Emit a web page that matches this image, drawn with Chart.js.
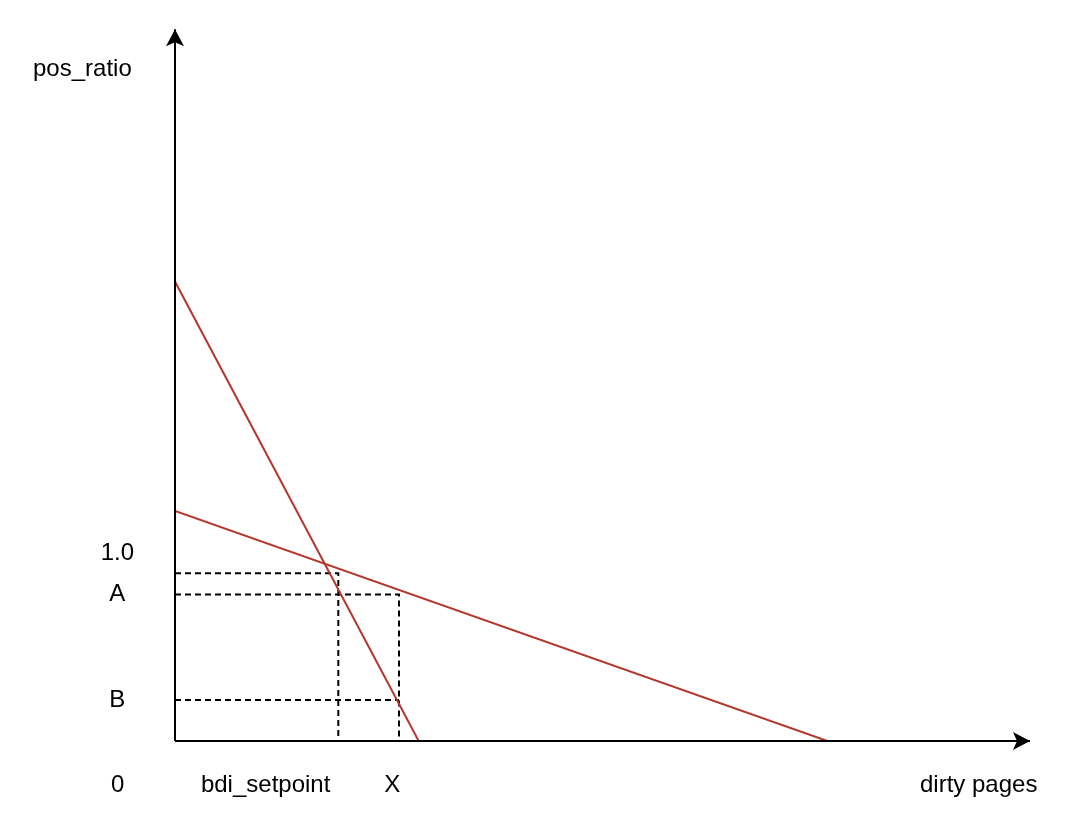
<!DOCTYPE html>
<html>
<head>
<meta charset="utf-8">
<title>pos_ratio vs dirty pages</title>
<script src="https://cdn.jsdelivr.net/npm/chart.js@4"></script>
<style>
  body { margin: 0; background: #fff; }
  #wrap { width: 1072px; height: 840px; }
</style>
</head>
<body>
<div id="wrap"><canvas id="chart"></canvas></div>
<script>
// Tick labels (y in pos_ratio units, x in arbitrary page units)
const yTickValues = [1.0, 0.78, 0.218];
const yTickLabels = ["1.0", "A", "B"];
const xTickValues = [-6.7, 10.6, 25.4, 94.0];
const xTickLabels = ["0", "bdi_setpoint", "X", "dirty pages"];

// Red control lines
const steepX = [0, 28.5];
const steepY = [2.447, 0];
const shallowX = [0, 76.3];
const shallowY = [1.225, 0];

// Dashed guides
const setpointGuideX = [0, 19.1, 19.1];
const setpointGuideY = [0.893, 0.893, 0];
const aGuideX = [0, 26.2, 26.2];
const aGuideY = [0.78, 0.78, 0];
const bGuideX = [0, 26.2];
const bGuideY = [0.218, 0.218];

// Axis lines (with arrow heads)
const xAxisX = [0, 100];
const xAxisY = [0, 0];
const yAxisX = [0, 0];
const yAxisY = [0, 3.79];

const RED = "#b3382d";
const pts = (xs, ys) => xs.map((x, i) => ({ x: x, y: ys[i] }));

const redLine = (label, xs, ys) => ({
  label: label,
  data: pts(xs, ys),
  borderColor: RED,
  borderWidth: 2,
});
const dashLine = (label, xs, ys) => ({
  label: label,
  data: pts(xs, ys),
  borderColor: "#000",
  borderWidth: 2,
  borderDash: [6, 4],
});
const axisLine = (label, xs, ys) => ({
  label: label,
  data: pts(xs, ys),
  borderColor: "#000",
  borderWidth: 2,
  clip: false,
  arrow: true,
});

// draws the notched arrow head at the end of each axis line
const arrowHeads = {
  id: "arrowHeads",
  afterDatasetsDraw(chart) {
    const ctx = chart.ctx;
    chart.data.datasets.forEach((ds, i) => {
      if (!ds.arrow) return;
      const el = chart.getDatasetMeta(i).data;
      const a = el[el.length - 2];
      const b = el[el.length - 1];
      ctx.save();
      ctx.translate(b.x, b.y);
      ctx.rotate(Math.atan2(b.y - a.y, b.x - a.x));
      ctx.beginPath();
      ctx.moveTo(0, 0);
      ctx.lineTo(-17, -9);
      ctx.lineTo(-13, 0);
      ctx.lineTo(-17, 9);
      ctx.closePath();
      ctx.fillStyle = ds.borderColor;
      ctx.fill();
      ctx.restore();
    });
  },
};

Chart.defaults.font.family = "'Liberation Sans', Arial, Helvetica, sans-serif";
Chart.defaults.font.size = 24;
Chart.defaults.color = "#000";

new Chart(document.getElementById("chart"), {
  type: "scatter",
  data: {
    datasets: [
      axisLine("x axis", xAxisX, xAxisY),
      axisLine("y axis", yAxisX, yAxisY),
      redLine("steep", steepX, steepY),
      redLine("shallow", shallowX, shallowY),
      dashLine("setpoint guide", setpointGuideX, setpointGuideY),
      dashLine("A guide", aGuideX, aGuideY),
      dashLine("B guide", bGuideX, bGuideY),
    ],
  },
  options: {
    responsive: true,
    maintainAspectRatio: false,
    animation: false,
    showLine: true,
    elements: {
      point: { radius: 0, hoverRadius: 0 },
      line: { tension: 0, borderCapStyle: "butt" },
    },
    layout: { padding: { left: 33, right: 42, top: 0, bottom: 0 } },
    plugins: {
      legend: { display: false },
      tooltip: { enabled: false },
      title: {
        display: true,
        text: "pos_ratio",
        align: "start",
        color: "#000",
        font: { size: 24, weight: "normal" },
        padding: { top: 55, bottom: 0 },
      },
    },
    scales: {
      x: {
        type: "linear",
        min: 0,
        max: 100,
        grid: { display: false, drawTicks: false },
        border: { display: false },
        afterBuildTicks: (scale) => {
          scale.ticks = xTickValues.map((v) => ({ value: v }));
        },
        afterFit: (scale) => {
          scale.height = 99;
        },
        ticks: {
          autoSkip: false,
          maxRotation: 0,
          padding: 30,
          callback: (value, index) => xTickLabels[index],
        },
      },
      y: {
        type: "linear",
        min: 0,
        max: 3.5,
        grid: { display: false, drawTicks: false },
        border: { display: false },
        afterBuildTicks: (scale) => {
          scale.ticks = yTickValues.map((v) => ({ value: v }));
        },
        afterFit: (scale) => {
          scale.width = 142;
        },
        ticks: {
          autoSkip: false,
          crossAlign: "center",
          padding: 41,
          callback: (value, index) => yTickLabels[index],
        },
      },
    },
  },
  plugins: [arrowHeads],
});
</script>
</body>
</html>
